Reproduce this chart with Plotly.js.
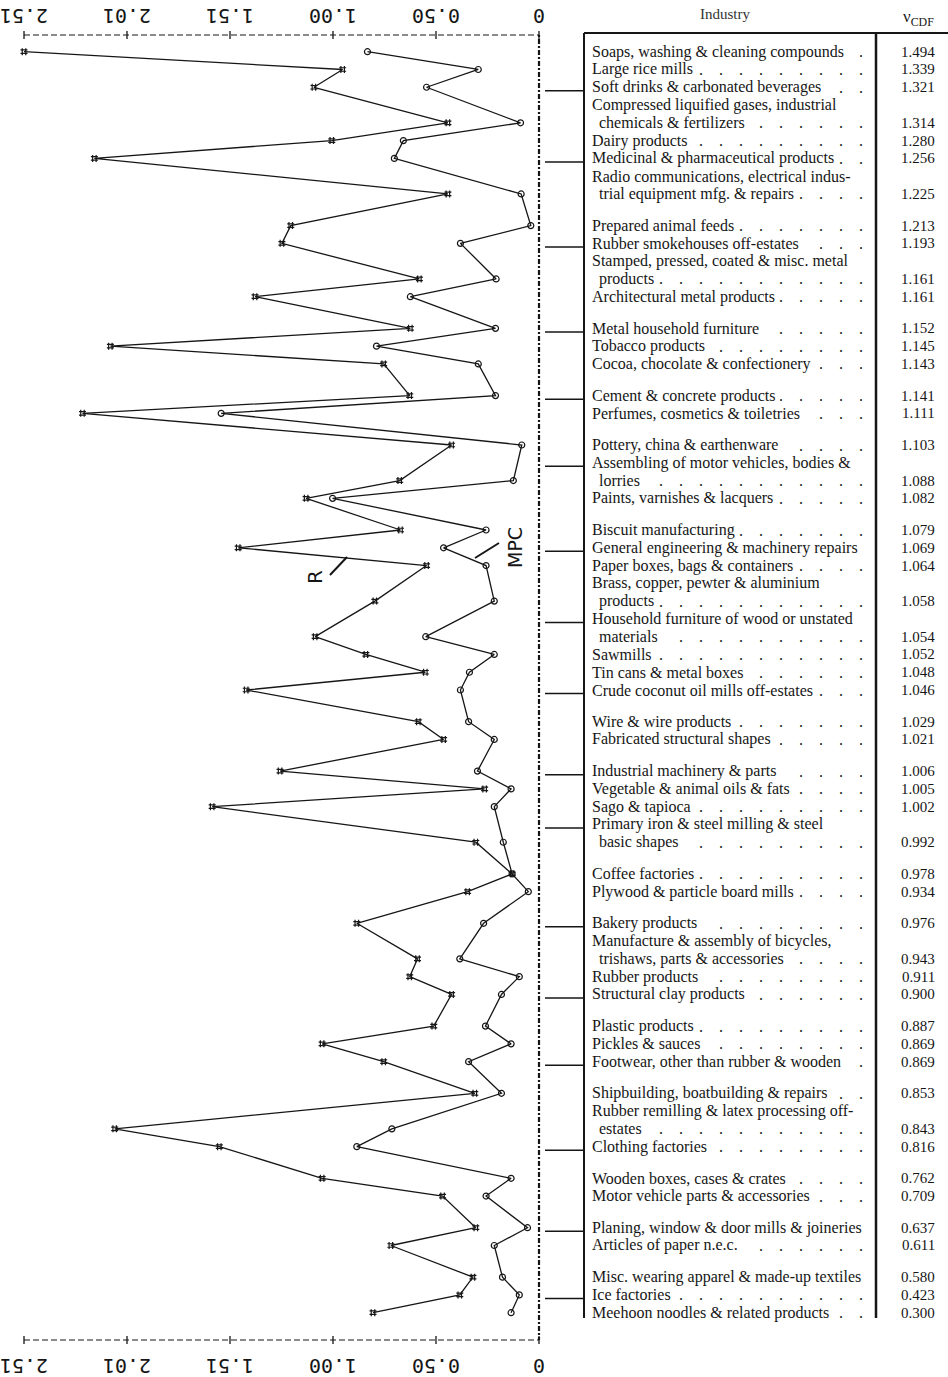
<!DOCTYPE html>
<html><head><meta charset="utf-8">
<script src="https://cdn.plot.ly/plotly-3.0.1.min.js"></script>
<style>html,body{margin:0;padding:0;background:#fff}</style>
</head><body><div id="chart" style="width:948px;height:1377px"></div>
<script>
// ---------------- DATA ----------------
const industries = [
  "Soaps, washing & cleaning compounds",
  "Large rice mills",
  "Soft drinks & carbonated beverages",
  "Compressed liquified gases, industrial|chemicals & fertilizers",
  "Dairy products",
  "Medicinal & pharmaceutical products",
  "Radio communications, electrical indus-|trial equipment mfg. & repairs",
  "Prepared animal feeds",
  "Rubber smokehouses off-estates",
  "Stamped, pressed, coated & misc. metal|products",
  "Architectural metal products",
  "Metal household furniture",
  "Tobacco products",
  "Cocoa, chocolate & confectionery",
  "Cement & concrete products",
  "Perfumes, cosmetics & toiletries",
  "Pottery, china & earthenware",
  "Assembling of motor vehicles, bodies &|lorries",
  "Paints, varnishes & lacquers",
  "Biscuit manufacturing",
  "General engineering & machinery repairs",
  "Paper boxes, bags & containers",
  "Brass, copper, pewter & aluminium|products",
  "Household furniture of wood or unstated|materials",
  "Sawmills",
  "Tin cans & metal boxes",
  "Crude coconut oil mills off-estates",
  "Wire & wire products",
  "Fabricated structural shapes",
  "Industrial machinery & parts",
  "Vegetable & animal oils & fats",
  "Sago & tapioca",
  "Primary iron & steel milling & steel|basic shapes",
  "Coffee factories",
  "Plywood & particle board mills",
  "Bakery products",
  "Manufacture & assembly of bicycles,|trishaws, parts & accessories",
  "Rubber products",
  "Structural clay products",
  "Plastic products",
  "Pickles & sauces",
  "Footwear, other than rubber & wooden",
  "Shipbuilding, boatbuilding & repairs",
  "Rubber remilling & latex processing off-|estates",
  "Clothing factories",
  "Wooden boxes, cases & crates",
  "Motor vehicle parts & accessories",
  "Planing, window & door mills & joineries",
  "Articles of paper n.e.c.",
  "Misc. wearing apparel & made-up textiles",
  "Ice factories",
  "Meehoon noodles & related products"
];
const groupSizes = [7,4,3,2,3,8,2,4,2,4,3,3,2,2,3];
const vcdf = [1.494,1.339,1.321,1.314,1.280,1.256,1.225,1.213,1.193,1.161,1.161,1.152,1.145,1.143,1.141,1.111,1.103,1.088,1.082,1.079,1.069,1.064,1.058,1.054,1.052,1.048,1.046,1.029,1.021,1.006,1.005,1.002,0.992,0.978,0.934,0.976,0.943,0.911,0.900,0.887,0.869,0.869,0.853,0.843,0.816,0.762,0.709,0.637,0.611,0.580,0.423,0.300];
const rValues = [2.51,0.957,1.097,0.444,1.01,2.167,0.444,1.21,1.253,0.583,1.384,0.627,2.089,0.757,0.63,2.225,0.426,0.679,1.135,0.675,1.466,0.548,0.80,1.091,0.844,0.554,1.427,0.588,0.465,1.262,0.265,1.593,0.308,0.131,0.348,0.888,0.592,0.63,0.426,0.513,1.057,0.757,0.313,2.068,1.558,1.057,0.47,0.308,0.722,0.322,0.386,0.809];
const mpcValues = [0.836,0.296,0.548,0.09,0.661,0.705,0.087,0.04,0.383,0.209,0.627,0.212,0.792,0.296,0.212,1.549,0.084,0.125,1.006,0.258,0.465,0.258,0.218,0.552,0.218,0.339,0.383,0.343,0.218,0.30,0.136,0.218,0.174,0.131,0.052,0.27,0.386,0.096,0.183,0.261,0.136,0.343,0.183,0.717,0.888,0.136,0.258,0.056,0.218,0.178,0.096,0.136];
const tickValues = [0, 0.502, 1.004, 1.506, 2.008, 2.51];
const tickLabels = ["0","0.50","1.00","1.51","2.01","2.51"];
const headerIndustry = "Industry";
const headerValue = "\u03BD<sub>CDF</sub>";

// ---------------- LAYOUT GEOMETRY ----------------
const W = 948, H = 1377;
const PLOT_LEFT = 24, PLOT_RIGHT = 539, AXIS_TOP = 35, AXIS_BOTTOM = 1340;
const FIRST_LINE = 51.7, LAST_LINE = 1312.7, GAP = 0.78;
const TABLE_LEFT = 584, TABLE_DIV = 876, TABLE_TOP = 33, TABLE_BOTTOM = 1318;
const NAME_X = 590, INDENT_X = 597, LEADER_END = 865, VALUE_X = 918;
const INK = "#161616";
const SERIF = "Liberation Serif, Times New Roman, serif";
const NAME_SIZE = 16;

const firstLine = [], lastLine = [];
(function(){
  let p = 0, k = 0;
  groupSizes.forEach((g, gi) => {
    if (gi > 0) p += GAP;
    for (let j = 0; j < g; j++) {
      const n = industries[k].split("|").length;
      firstLine.push(p); lastLine.push(p + n - 1);
      p += n; k++;
    }
  });
})();
const pxPerLine = (LAST_LINE - FIRST_LINE) / lastLine[lastLine.length - 1];
const pxToLine = v => (v - FIRST_LINE) / pxPerLine;
const py = v => 1 - v / H;
const px = v => v / W;

// text measuring for dot leaders
const ctx = document.createElement("canvas").getContext("2d");
ctx.font = NAME_SIZE + 'px "Liberation Serif", "Times New Roman", serif';
const measure = s => ctx.measureText(s).width;
const unitW = measure(".\u2003"), dotW = measure(".");
function leaderFor(textStartPx, text) {
  const end = textStartPx + measure(text);
  const room = LEADER_END - end - 7;
  if (room < dotW) return "";
  const n = Math.floor((room - dotW) / unitW) + 1;
  return Array(n).fill(".").join("\u2003");
}

const xMax = tickValues[tickValues.length - 1];
const unitPerPx = xMax / (PLOT_RIGHT - PLOT_LEFT);
const PAD = 12;
const xRange = [xMax + PAD * unitPerPx, -PAD * unitPerPx];
const xDomain = [px(PLOT_LEFT - PAD), px(PLOT_RIGHT + PAD)];
const yDomain = [py(AXIS_BOTTOM), py(AXIS_TOP)];
const yRange = [pxToLine(AXIS_BOTTOM), pxToLine(AXIS_TOP)];

// ---------------- TRACES ----------------
const lineStyle = {color: INK, width: 1.3};
const traces = [
  {type: "scatter", name: "R", x: rValues, y: lastLine, xaxis: "x", yaxis: "y",
   mode: "lines+markers", line: lineStyle, cliponaxis: false,
   marker: {symbol: "hash-open", size: 7, color: INK, line: {width: 1.2, color: INK}},
   hoverinfo: "x"},
  {type: "scatter", name: "MPC", x: mpcValues, y: lastLine, xaxis: "x2", yaxis: "y",
   mode: "lines+markers", line: lineStyle, cliponaxis: false,
   marker: {symbol: "circle-open", size: 6, color: INK, line: {width: 1.2, color: INK}},
   hoverinfo: "x"}
];

// ---------------- SHAPES ----------------
const shapes = [];
shapes.push({type: "line", xref: "x", yref: "paper", x0: 0, x1: 0, y0: py(AXIS_TOP), y1: py(AXIS_BOTTOM),
  line: {color: INK, width: 2.2, dash: "2px,2px,5px,2px"}});
[AXIS_TOP, AXIS_BOTTOM].forEach(yy => {
  shapes.push({type: "line", xref: "x", yref: "paper", x0: xMax, x1: 0, y0: py(yy), y1: py(yy),
    line: {color: INK, width: 1, dash: "6px,3px"}});
  tickValues.forEach(v => shapes.push({type: "line", xref: "x", yref: "paper", x0: v, x1: v,
    y0: py(yy - 4), y1: py(yy + 4), line: {color: INK, width: 1.3}}));
});
industries.forEach((_, k) => {
  if ((k + 1) % 3 === 0) shapes.push({type: "line", xref: "paper", yref: "y",
    x0: px(545), x1: px(TABLE_LEFT), y0: firstLine[k] + 0.2, y1: firstLine[k] + 0.2,
    line: {color: INK, width: 1.5}});
});
shapes.push({type: "line", xref: "paper", yref: "paper", x0: px(TABLE_LEFT), x1: px(TABLE_LEFT),
  y0: py(TABLE_TOP), y1: py(TABLE_BOTTOM), line: {color: INK, width: 2}});
shapes.push({type: "line", xref: "paper", yref: "paper", x0: px(TABLE_DIV), x1: px(TABLE_DIV),
  y0: py(TABLE_TOP), y1: py(TABLE_BOTTOM), line: {color: INK, width: 2.5}});
shapes.push({type: "line", xref: "paper", yref: "paper", x0: px(TABLE_LEFT), x1: 1,
  y0: py(TABLE_TOP), y1: py(TABLE_TOP), line: {color: INK, width: 2}});
shapes.push({type: "line", xref: "paper", yref: "paper", x0: px(330), y0: py(575), x1: px(347), y1: py(557),
  line: {color: INK, width: 2}});
shapes.push({type: "line", xref: "paper", yref: "paper", x0: px(475), y0: py(558), x1: px(499), y1: py(543),
  line: {color: INK, width: 2}});

// ---------------- ANNOTATIONS ----------------
const annotations = [];
const tFont = {family: SERIF, size: NAME_SIZE, color: INK};
annotations.push({xref: "paper", yref: "paper", x: px(725), y: py(14), text: headerIndustry, showarrow: false,
  xanchor: "center", yanchor: "middle", font: {family: SERIF, size: 15, color: "#333"}});
annotations.push({xref: "paper", yref: "paper", x: px(918), y: py(18), text: headerValue, showarrow: false,
  xanchor: "center", yanchor: "middle", font: {family: SERIF, size: 17, color: INK}});
industries.forEach((name, k) => {
  const parts = name.split("|");
  parts.forEach((t, li) => {
    const yy = firstLine[k] + li;
    const startPx = li === 0 ? NAME_X : INDENT_X;
    annotations.push({xref: "paper", yref: "y", x: px(startPx), y: yy, text: t, showarrow: false,
      xanchor: "left", yanchor: "middle", font: tFont});
    if (li === parts.length - 1) {
      const lead = leaderFor(startPx, t);
      if (lead) annotations.push({xref: "paper", yref: "y", x: px(LEADER_END), y: yy, text: lead,
        showarrow: false, xanchor: "right", yanchor: "middle", font: tFont});
    }
  });
  annotations.push({xref: "paper", yref: "y", x: px(VALUE_X), y: lastLine[k], text: vcdf[k].toFixed(3),
    showarrow: false, xanchor: "center", yanchor: "middle", font: {family: SERIF, size: 15, color: INK}});
});
annotations.push({xref: "paper", yref: "paper", x: px(315), y: py(577), text: "R", textangle: -90, showarrow: false,
  xanchor: "center", yanchor: "middle", font: {family: "DejaVu Sans", size: 20, color: INK}});
annotations.push({xref: "paper", yref: "paper", x: px(515), y: py(548), text: "MPC", textangle: -90, showarrow: false,
  xanchor: "center", yanchor: "middle", font: {family: "DejaVu Sans", size: 19, color: INK}});

// ---------------- AXES ----------------
const axisCommon = {range: xRange, domain: xDomain, tickmode: "array", tickvals: tickValues, ticktext: tickLabels,
  tickangle: 180, tickfont: {family: "DejaVu Sans Mono", size: 20, color: INK},
  showgrid: false, zeroline: false, showline: false, ticks: "", ticklabeloverflow: "allow",
  fixedrange: true};

const layout = {
  width: W, height: H, margin: {l: 0, r: 0, t: 0, b: 0},
  paper_bgcolor: "#fff", plot_bgcolor: "rgba(0,0,0,0)", showlegend: false,
  xaxis: Object.assign({}, axisCommon, {side: "top", anchor: "y", ticklabelstandoff: 1}),
  xaxis2: Object.assign({}, axisCommon, {side: "bottom", anchor: "y", overlaying: "x", ticklabelstandoff: 18}),
  yaxis: {domain: yDomain, range: yRange, visible: false, fixedrange: true},
  shapes: shapes, annotations: annotations
};

Plotly.newPlot("chart", traces, layout, {displayModeBar: false, staticPlot: true});
</script>
</body></html>
